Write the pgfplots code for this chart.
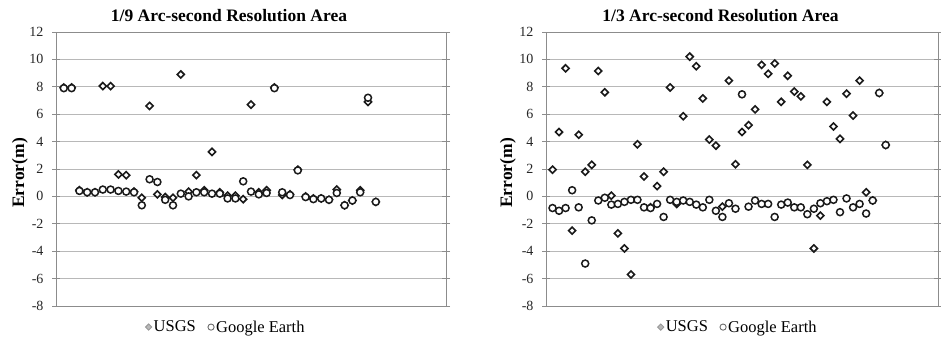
\documentclass[border=0pt]{standalone}
\usepackage{pgfplots}
\pgfplotsset{compat=1.18}
\usepackage{fontspec}
\setmainfont{Liberation Serif}
\definecolor{gridc}{HTML}{B8B8B8}
\definecolor{framec}{HTML}{8C8C8C}
\definecolor{mk}{HTML}{1A1A1A}
\pgfplotsset{
  errax/.style={
    scale only axis, width=390pt, height=274pt,
    xmin=0, ymin=-8, ymax=12,
    ytick={-8,-6,...,12},
    xtick=\empty,
    ymajorgrids, grid style={gridc, line width=0.9pt},
    axis line style={framec, line width=0.9pt},
    ytick style={framec, line width=0.8pt},
    tick align=center, major tick length=8pt,
    yticklabel style={font=\fontsize{14}{16}\selectfont, text=black!85, xshift=-5pt},
    /pgf/number format/assume math mode=true,
    legend style={draw=none, fill=none, font=\fontsize{16.5}{18}\selectfont, anchor=center,
      inner sep=0pt, legend columns=2,
      /tikz/every even column/.append style={column sep=10pt}},
    legend cell align=left,
    legend image code/.code={\draw[##1] plot coordinates {(0pt,0pt)};},
    clip=false,
  },
  usgs/.style={only marks, mark=square*, mark size=2.5pt,
    mark options={rotate=45, draw=mk, fill=white, line width=1.6pt}},
  ge/.style={only marks, mark=*, mark size=3.5pt,
    mark options={draw=mk, fill=white, line width=1.5pt}},
  usgsleg/.style={only marks, mark=square*, mark size=2.2pt,
    mark options={rotate=45, draw=gray!80, fill=gray!55, line width=0.9pt}},
  geleg/.style={only marks, mark=*, mark size=3.1pt,
    mark options={draw=gray!85!black, fill=white, line width=0.9pt}},
}
\pgfplotstableread{
x usgs ge
1 7.95 7.9
2 7.95 7.9
3 0.45 0.4
4 0.3 0.3
5 0.3 0.3
6 8.05 0.5
7 8.05 0.5
8 1.6 0.4
9 1.55 0.35
10 0.35 0.3
11 -0.1 -0.65
12 6.6 1.25
13 0.15 1.05
14 -0.05 -0.25
15 -0.1 -0.65
16 8.9 0.2
17 0.35 0.0
18 1.55 0.3
19 0.45 0.3
20 3.25 0.2
21 0.3 0.2
22 0.05 -0.15
23 0.05 -0.15
24 -0.2 1.1
25 6.7 0.35
26 0.3 0.15
27 0.45 0.25
28 7.95 7.9
29 0.1 0.3
30 0.15 0.1
31 1.95 1.9
32 0.0 -0.05
33 -0.15 -0.2
34 -0.15 -0.15
35 -0.25 -0.25
36 0.5 0.25
37 -0.65 -0.65
38 -0.3 -0.3
39 0.45 0.3
40 6.9 7.2
41 -0.4 -0.4
}\leftdata
\pgfplotstableread{
x usgs ge
1 1.95 -0.85
2 4.7 -1.05
3 9.35 -0.85
4 -2.5 0.45
5 4.5 -0.8
6 1.8 -4.9
7 2.3 -1.75
8 9.15 -0.3
9 7.6 -0.1
10 0.05 -0.6
11 -2.7 -0.55
12 -3.8 -0.4
13 -5.7 -0.25
14 3.8 -0.25
15 1.45 -0.8
16 -0.8 -0.85
17 0.75 -0.55
18 1.8 -1.5
19 7.95 -0.25
20 -0.55 -0.4
21 5.85 -0.3
22 10.2 -0.4
23 9.5 -0.6
24 7.15 -0.8
25 4.15 -0.25
26 3.7 -1.05
27 -0.75 -1.5
28 8.45 -0.5
29 2.35 -0.9
30 4.7 7.45
31 5.2 -0.75
32 6.35 -0.3
33 9.6 -0.55
34 8.95 -0.55
35 9.7 -1.5
36 6.9 -0.6
37 8.8 -0.45
38 7.65 -0.8
39 7.3 -0.8
40 2.3 -1.3
41 -3.8 -0.9
42 -1.4 -0.5
43 6.9 -0.35
44 5.1 -0.25
45 4.2 -1.15
46 7.5 -0.15
47 5.9 -0.8
48 8.45 -0.55
49 0.3 -1.25
50 -0.3 -0.3
51 7.55 7.55
52 3.75 3.75
}\rightdata
\begin{document}
\begin{tikzpicture}
\useasboundingbox (0pt,0pt) rectangle (941pt,337pt);
\begin{axis}[errax, at={(56pt,31pt)}, anchor=south west, xmax=50,
  legend style={at={(0.436,-0.077)}}]
\addlegendimage{usgsleg}
\addlegendentry{USGS}
\addlegendimage{geleg}
\addlegendentry{Google Earth}
\addplot[usgs, forget plot] table[x=x, y=usgs] {\leftdata};
\addplot[ge, forget plot] table[x=x, y=ge] {\leftdata};
\end{axis}
\begin{axis}[errax, at={(546pt,31pt)}, anchor=south west, width=392pt, xmax=60,
  legend style={at={(0.49,-0.077)}}]
\addlegendimage{usgsleg}
\addlegendentry{USGS}
\addlegendimage{geleg}
\addlegendentry{Google Earth}
\addplot[usgs, forget plot] table[x=x, y=usgs] {\rightdata};
\addplot[ge, forget plot] table[x=x, y=ge] {\rightdata};
\end{axis}
\node[anchor=base, font=\bfseries\fontsize{17.5}{19}\selectfont] at (229pt,315pt) {1/9 Arc-second Resolution Area};
\node[anchor=base, font=\bfseries\fontsize{17.5}{19}\selectfont] at (720.5pt,315pt) {1/3 Arc-second Resolution Area};
\node[rotate=90, font=\bfseries\fontsize{17.5}{19}\selectfont] at (20pt,164pt) {Error(m)};
\node[rotate=90, font=\bfseries\fontsize{17.5}{19}\selectfont] at (508pt,164pt) {Error(m)};
\end{tikzpicture}
\end{document}
